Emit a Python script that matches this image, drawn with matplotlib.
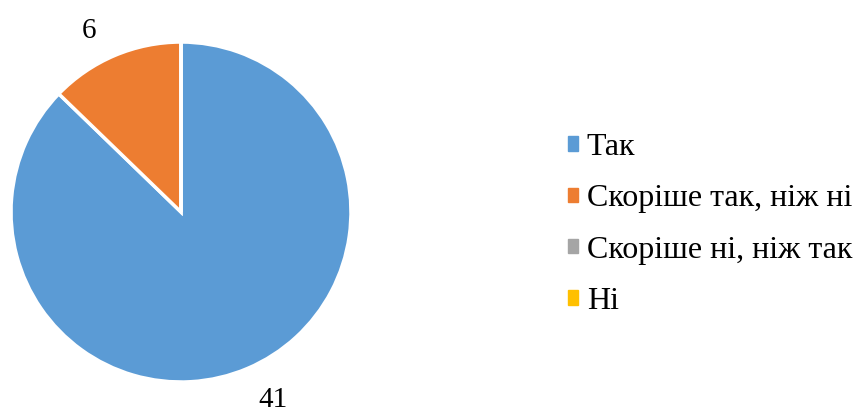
import numpy as np
import matplotlib.pyplot as plt
from matplotlib.patches import Patch

plt.rcParams['font.family'] = ['Liberation Serif', 'DejaVu Serif']

categories = ["Так", "Скоріше так, ніж ні", "Скоріше ні, ніж так", "Ні"]
values = [41, 6, 0, 0]
colors = ["#5B9BD5", "#ED7D31", "#A5A5A5", "#FFC000"]

fig = plt.figure(figsize=(8.58, 4.12), dpi=100)
ax = fig.add_axes([0.0128, 0.0728, 0.3963, 0.8252])

wedges, _ = ax.pie(values, colors=colors, startangle=90, counterclock=False,
                   wedgeprops=dict(edgecolor="white", linewidth=2.5))

# data labels outside the slices, Excel-style
for w, v in zip(wedges, values):
    if v == 0:
        continue
    ang = np.deg2rad((w.theta1 + w.theta2) / 2 + 3.5)
    ax.text(1.21 * np.cos(ang), 1.21 * np.sin(ang) - 0.02, str(v),
            ha="center", va="center", fontsize=21)

ax.set_xlim(-1, 1)
ax.set_ylim(-1, 1)
ax.set_aspect("equal")

handles = [Patch(facecolor=c, edgecolor=c) for c in colors]
fig.legend(handles, categories, loc="center left", bbox_to_anchor=(0.662, 0.455),
           frameon=False, fontsize=23, handlelength=0.32, handleheight=0.32,
           handletextpad=0.27, labelspacing=0.7, borderpad=0, borderaxespad=0)

fig.savefig("out.png", dpi=100)
